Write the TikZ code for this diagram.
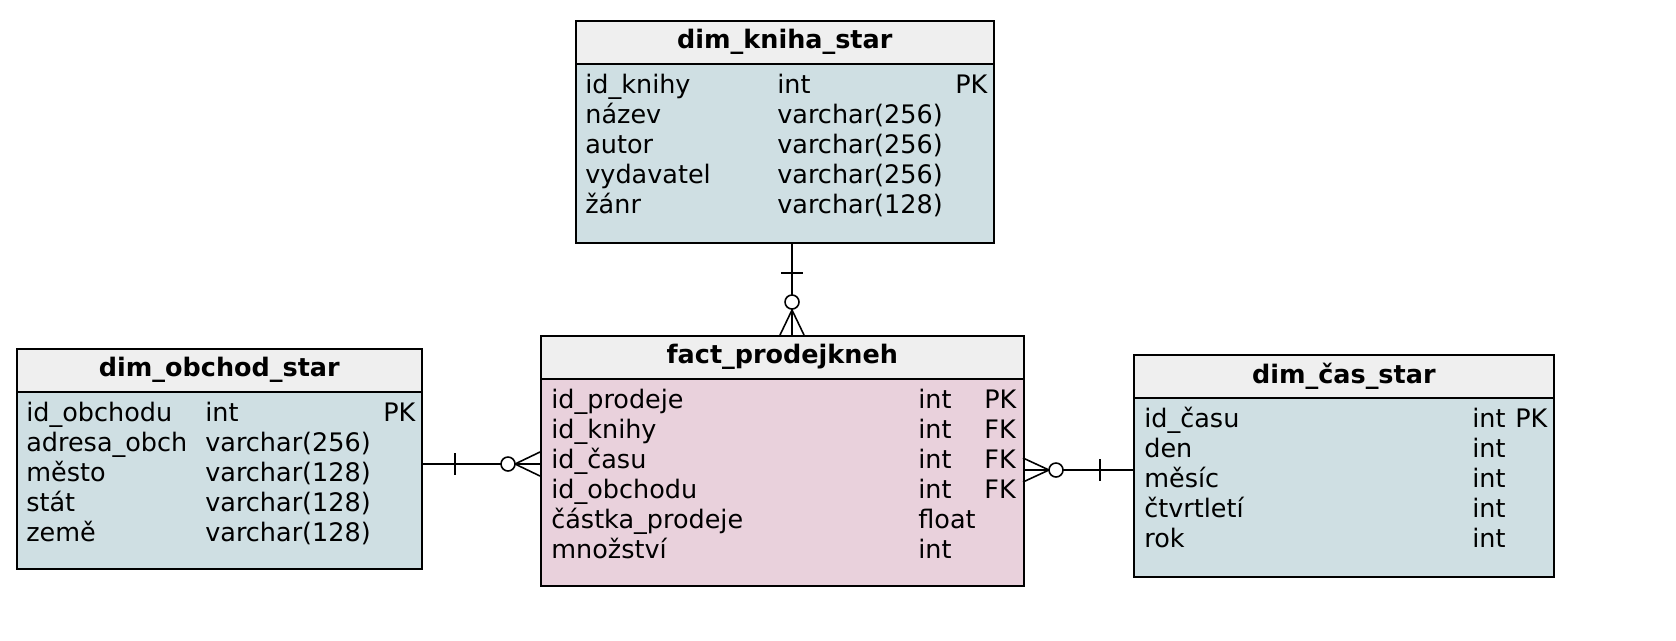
\documentclass[tikz,border=0pt]{standalone}
\usepackage{fontspec}
\setmainfont{DejaVu Sans}
\definecolor{hdr}{HTML}{EFEFEF}
\definecolor{dimc}{HTML}{CFDFE3}
\definecolor{factc}{HTML}{E9D1DC}
\tikzset{
  box/.style={draw,line width=0.9pt,anchor=north west,inner sep=0pt},
  head/.style={box,fill=hdr,minimum height=43*0.02cm,font=\bfseries\fontsize{14.5}{16}\selectfont},
  cell/.style={anchor=base west,inner sep=0pt,font=\fontsize{14.5}{16}\selectfont},
  rel/.style={line width=0.9pt},
}
\newcommand\tbl[7]{% name, x, y, width, height, fill, title
  \node[box,fill=#6,minimum width=#4*0.02cm,minimum height=#5*0.02cm] (#1) at (#2,#3) {};
  \node[head,minimum width=#4*0.02cm] (#1-h) at (#2,#3) {#7};}
\begin{document}
\begin{tikzpicture}[x=0.02cm,y=-0.02cm]
\useasboundingbox (0,0) rectangle (1676,640);
% tables
\tbl{kniha}{575}{20}{418}{222}{dimc}{dim\_kniha\_star}
\tbl{fact}{540}{335}{483}{250}{factc}{fact\_prodejkneh}
\tbl{obchod}{16}{348}{405}{220}{dimc}{dim\_obchod\_star}
\tbl{cas}{1133}{354}{420}{222}{dimc}{dim\_čas\_star}
% rows
\foreach \n/\t/\k [count=\i] in {id\_knihy/int/PK,název/varchar(256)/,autor/varchar(256)/,vydavatel/varchar(256)/,žánr/varchar(128)/}
  {\node[cell] at (585,{63+30*\i}) {\n};\node[cell] at (777,{63+30*\i}) {\t};\node[cell] at (955,{63+30*\i}) {\k};}
\foreach \n/\t/\k [count=\i] in {id\_prodeje/int/PK,id\_knihy/int/FK,id\_času/int/FK,id\_obchodu/int/FK,částka\_prodeje/float/,množství/int/}
  {\node[cell] at (551,{378+30*\i}) {\n};\node[cell] at (918,{378+30*\i}) {\t};\node[cell] at (984,{378+30*\i}) {\k};}
\foreach \n/\t/\k [count=\i] in {id\_obchodu/int/PK,adresa\_obch/varchar(256)/,město/varchar(128)/,stát/varchar(128)/,země/varchar(128)/}
  {\node[cell] at (26,{391+30*\i}) {\n};\node[cell] at (205,{391+30*\i}) {\t};\node[cell] at (383,{391+30*\i}) {\k};}
\foreach \n/\t/\k [count=\i] in {id\_času/int/PK,den/int/,měsíc/int/,čtvrtletí/int/,rok/int/}
  {\node[cell] at (1144,{397+30*\i}) {\n};\node[cell] at (1472,{397+30*\i}) {\t};\node[cell] at (1515,{397+30*\i}) {\k};}
% relations
\coordinate (k1) at (792,242); \coordinate (k2) at (792,335);
\draw[rel] (k1) -- (k2);
\draw[rel] (781,273) -- (803,273);
\draw[rel,fill=white] (792,302) circle (7);
\draw[rel] (792,310) -- (780,335) (792,310) -- (804,335);
\coordinate (o1) at (421,464); \coordinate (o2) at (540,464);
\draw[rel] (o1) -- (o2);
\draw[rel] (455,453) -- (455,475);
\draw[rel,fill=white] (508,464) circle (7);
\draw[rel] (515,464) -- (540,452) (515,464) -- (540,476);
\coordinate (c1) at (1023,470); \coordinate (c2) at (1133,470);
\draw[rel] (c1) -- (c2);
\draw[rel] (1100,459) -- (1100,481);
\draw[rel,fill=white] (1056,470) circle (7);
\draw[rel] (1049,470) -- (1023,458) (1049,470) -- (1023,482);
\end{tikzpicture}
\end{document}
